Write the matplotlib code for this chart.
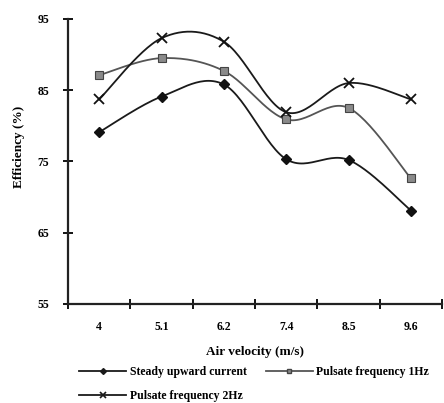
import numpy as np
import matplotlib
matplotlib.use("Agg")
import matplotlib.pyplot as plt
from matplotlib.ticker import FixedLocator, NullFormatter

plt.rcParams['font.family'] = ['Liberation Serif', 'DejaVu Serif']

velocity = ["4", "5.1", "6.2", "7.4", "8.5", "9.6"]
steady = [79.1, 84.1, 85.8, 75.3, 75.2, 68.1]
pulse_1hz = [87.1, 89.5, 87.7, 80.9, 82.5, 72.6]
pulse_2hz = [83.7, 92.3, 91.8, 81.9, 86.0, 83.7]


def smooth(x, y, n=30):
    # Catmull-Rom style curve through every point (like a spreadsheet "smoothed line")
    x = np.asarray(x, float)
    y = np.asarray(y, float)
    px = np.concatenate([[x[0]], x, [x[-1]]])
    py = np.concatenate([[y[0]], y, [y[-1]]])
    xs, ys = [], []
    t = np.linspace(0, 1, n)
    for i in range(1, len(px) - 2):
        p0, p1, p2, p3 = (np.array([px[j], py[j]]) for j in range(i - 1, i + 3))
        c1 = p1 + (p2 - p0) / 6
        c2 = p2 - (p3 - p1) / 6
        b = ((1 - t) ** 3)[:, None] * p1 + (3 * (1 - t) ** 2 * t)[:, None] * c1 \
            + (3 * (1 - t) * t ** 2)[:, None] * c2 + (t ** 3)[:, None] * p2
        xs.append(b[:, 0])
        ys.append(b[:, 1])
    return np.concatenate(xs), np.concatenate(ys)


fig = plt.figure(figsize=(4.44, 4.03), dpi=100)
ax = fig.add_axes([0.153, 0.246, 0.843, 0.707])

xi = np.arange(len(velocity))

sx, sy = smooth(xi, steady)
ax.plot(sx, sy, color='#1a1a1a', lw=1.3)
ax.plot(xi, steady, ls='none', marker='D', ms=5, color='#111111')
h1, = ax.plot([], [], color='#1a1a1a', lw=1.3, marker='D', ms=3)

sx, sy = smooth(xi, pulse_1hz)
ax.plot(sx, sy, color='#555555', lw=1.3)
ax.plot(xi, pulse_1hz, ls='none', marker='s', ms=6, mfc='#8a8a8a', mec='#444444', mew=0.8)
h2, = ax.plot([], [], color='#555555', lw=1.3, marker='s', ms=3, mfc='#8a8a8a', mec='#444444')

sx, sy = smooth(xi, pulse_2hz)
ax.plot(sx, sy, color='#1a1a1a', lw=1.3)
ax.plot(xi, pulse_2hz, ls='none', marker='x', ms=7, mew=1.3, color='#111111')
h3, = ax.plot([], [], color='#1a1a1a', lw=1.3, marker='x', ms=4, mew=1.2)

ax.set_xlim(-0.5, 5.5)
ax.set_ylim(55, 95)
ax.set_yticks([55, 65, 75, 85, 95])
ax.xaxis.set_major_locator(FixedLocator(np.arange(-0.5, 6, 1)))
ax.xaxis.set_major_formatter(NullFormatter())
ax.xaxis.set_minor_locator(FixedLocator(xi))
ax.set_xticklabels(velocity, minor=True)
ax.tick_params(axis='x', which='minor', length=0, pad=12, labelsize=8.5)
ax.tick_params(axis='both', which='major', direction='inout', length=7, width=1.3,
               labelsize=8.5)
ax.tick_params(axis='y', pad=10)
for lab in ax.get_xticklabels(minor=True) + ax.get_yticklabels():
    lab.set_fontweight('bold')

for s in ['top', 'right']:
    ax.spines[s].set_visible(False)
for s in ['left', 'bottom']:
    ax.spines[s].set_linewidth(1.6)
    ax.spines[s].set_color('#222222')

ax.set_xlabel('Air velocity (m/s)', fontsize=9.5, fontweight='bold', labelpad=10)
ax.set_ylabel('Efficiency (%)', fontsize=9.5, fontweight='bold')
ax.yaxis.set_label_coords(-0.115, 0.55)

fig.legend([h1, h3, h2],
           ['Steady upward current', 'Pulsate frequency 2Hz', 'Pulsate frequency 1Hz'],
           ncol=2, loc='upper left', bbox_to_anchor=(0.178, 0.092), frameon=False,
           prop={'size': 8.5, 'weight': 'bold'}, handlelength=4, columnspacing=1.6,
           handletextpad=0.3, labelspacing=1.0, borderaxespad=0, borderpad=0)

fig.savefig('out.png', dpi=100)
